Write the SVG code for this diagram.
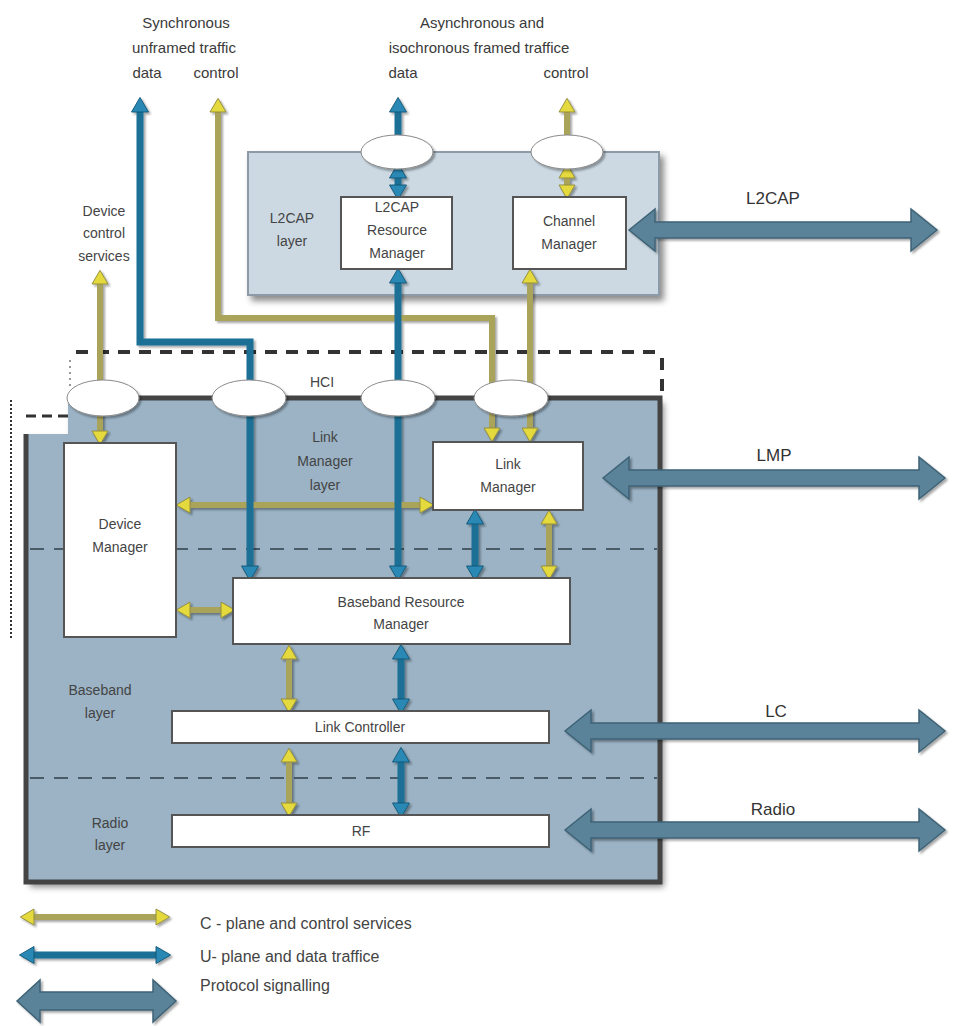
<svg xmlns="http://www.w3.org/2000/svg" width="959" height="1026" viewBox="0 0 959 1026">
  <defs>
    <style>
      text { font-family: "Liberation Sans", Arial, sans-serif; fill: #444; dominant-baseline: central; text-anchor: middle; }
      .lbl { font-size: 14px; }
      .top { font-size: 15px; fill: #3a3a3a; }
      .proto { font-size: 17px; fill: #333; }
      .leg { font-size: 16px; fill: #444; text-anchor: start; }
      .node { fill: #fff; stroke: #555; stroke-width: 2; }
      .ell { fill: #fff; stroke: #8a8a8a; stroke-width: 1; }
      .ctl { fill: none; stroke: #aaa35a; stroke-width: 6; }
      .dat { fill: none; stroke: #1c6f96; stroke-width: 7; }
      .sig { fill: #5a8399; stroke: #3e6275; stroke-width: 1.5; }
      .layerline { fill: none; stroke: #4a5b68; stroke-width: 2; stroke-dasharray: 14 10; }
      .hci { fill: none; stroke: #333; stroke-width: 4; stroke-dasharray: 12 9; }
    </style>
    <marker id="yh" markerUnits="userSpaceOnUse" markerWidth="14" markerHeight="16" viewBox="0 0 12 14" refX="0" refY="7" orient="auto-start-reverse" overflow="visible">
      <path d="M0,0 L12,7 L0,14 z" fill="#e4d93c" stroke="#8f8a3c" stroke-width="0.8"/>
    </marker>
    <marker id="bh" markerUnits="userSpaceOnUse" markerWidth="15" markerHeight="17" viewBox="0 0 12 14" refX="0" refY="7" orient="auto-start-reverse" overflow="visible">
      <path d="M0,0 L12,7 L0,14 z" fill="#2a88b5" stroke="#155a7a" stroke-width="0.8"/>
    </marker>
    <filter id="sh" x="-10%" y="-10%" width="130%" height="130%">
      <feDropShadow dx="2" dy="2" stdDeviation="1.2" flood-color="#000" flood-opacity="0.35"/>
    </filter>
    <filter id="boxsh" x="-5%" y="-5%" width="115%" height="115%">
      <feDropShadow dx="4" dy="5" stdDeviation="3" flood-color="#000" flood-opacity="0.45"/>
    </filter>
  </defs>

  <rect width="959" height="1026" fill="#fff"/>

  <!-- top labels -->
  <g id="labels-top">
    <text class="top" x="186" y="22">Synchronous</text>
    <text class="top" x="184" y="47">unframed traffic</text>
    <text class="top" x="147" y="72">data</text>
    <text class="top" x="216" y="72">control</text>
    <text class="top" x="482" y="22">Asynchronous and</text>
    <text class="top" x="479" y="47">isochronous framed traffice</text>
    <text class="top" x="403" y="72">data</text>
    <text class="top" x="566" y="72">control</text>
    <text class="lbl" x="104" y="211">Device</text>
    <text class="lbl" x="104" y="233">control</text>
    <text class="lbl" x="104" y="256">services</text>
  </g>

  <!-- controller (lower) frame -->
  <g id="controller">
    <path d="M68,398 H660 V882 H26 V434 H68 Z" fill="#9bb3c5" filter="url(#boxsh)"/>
    <path d="M68,398 H660 V882 H26 V434" fill="none" stroke="#444" stroke-width="5"/>
    <line class="layerline" x1="30" y1="549" x2="657" y2="549"/>
    <line class="layerline" x1="30" y1="778" x2="657" y2="778"/>
  </g>

  <!-- HCI boundary and fragments of outer frames -->
  <g id="hci-frame">
    <line class="hci" x1="76" y1="352" x2="662" y2="352"/>
    <line class="hci" x1="662" y1="358" x2="662" y2="392"/>
    <line x1="70" y1="360" x2="70" y2="386" stroke="#999" stroke-width="2" stroke-dasharray="2 4"/>
    <line x1="26" y1="416" x2="70" y2="416" stroke="#333" stroke-width="3" stroke-dasharray="10 6"/>
    <line x1="11" y1="400" x2="11" y2="638" stroke="#333" stroke-width="2" stroke-dasharray="2 2"/>
  </g>

  <!-- L2CAP layer box -->
  <g id="l2cap-layer">
    <rect x="248" y="152" width="411" height="143" fill="#ccd9e3" stroke="#8c9ba7" stroke-width="2" filter="url(#boxsh)"/>
    <text class="lbl" x="292" y="218">L2CAP</text>
    <text class="lbl" x="292" y="241">layer</text>
  </g>

  <!-- connectors -->
  <g id="connectors" filter="url(#sh)">
    <!-- control plane (yellow) -->
    <path class="ctl" d="M100,284 V398" marker-start="url(#yh)"/>
    <path class="ctl" d="M100,408 V431" marker-end="url(#yh)"/>
    <path class="ctl" d="M218,112 V318 H492 V428" marker-start="url(#yh)" marker-end="url(#yh)"/>
    <path class="ctl" d="M567,112 V150" marker-start="url(#yh)"/>
    <path class="ctl" d="M567,178 V185" marker-start="url(#yh)" marker-end="url(#yh)"/>
    <path class="ctl" d="M530,283 V428" marker-start="url(#yh)" marker-end="url(#yh)"/>
    <path class="ctl" d="M190,505 H420" marker-start="url(#yh)" marker-end="url(#yh)"/>
    <path class="ctl" d="M190,610 H221" marker-start="url(#yh)" marker-end="url(#yh)"/>
    <path class="ctl" d="M549,524 V566" marker-start="url(#yh)" marker-end="url(#yh)"/>
    <path class="ctl" d="M289,659 V699" marker-start="url(#yh)" marker-end="url(#yh)"/>
    <path class="ctl" d="M289,762 V803" marker-start="url(#yh)" marker-end="url(#yh)"/>

    <!-- user plane (blue) -->
    <path class="dat" d="M140,112 V342 H250 V566" marker-start="url(#bh)" marker-end="url(#bh)"/>
    <path class="dat" d="M398,112 V150" marker-start="url(#bh)"/>
    <path class="dat" d="M398,178 V185" marker-start="url(#bh)" marker-end="url(#bh)"/>
    <path class="dat" d="M398,283 V566" marker-start="url(#bh)" marker-end="url(#bh)"/>
    <path class="dat" d="M475,524 V566" marker-start="url(#bh)" marker-end="url(#bh)"/>
    <path class="dat" d="M401,659 V699" marker-start="url(#bh)" marker-end="url(#bh)"/>
    <path class="dat" d="M401,762 V803" marker-start="url(#bh)" marker-end="url(#bh)"/>
  </g>

  <!-- service access points -->
  <g id="sap" filter="url(#sh)">
    <ellipse class="ell" cx="397" cy="152" rx="36" ry="17"/>
    <ellipse class="ell" cx="567" cy="152" rx="36" ry="17"/>
    <ellipse class="ell" cx="103" cy="398" rx="36" ry="18"/>
    <ellipse class="ell" cx="249" cy="398" rx="37" ry="18"/>
    <ellipse class="ell" cx="398" cy="398" rx="37" ry="18"/>
    <ellipse class="ell" cx="511" cy="398" rx="37" ry="18"/>
  </g>
  <text class="lbl" x="322" y="382">HCI</text>

  <g id="l2cap-rm">
    <rect class="node" x="341" y="197" width="111" height="72"/>
    <text class="lbl" x="397" y="207">L2CAP</text>
    <text class="lbl" x="397" y="230">Resource</text>
    <text class="lbl" x="397" y="253">Manager</text>
  </g>
  <g id="channel-manager">
    <rect class="node" x="513" y="197" width="113" height="72"/>
    <text class="lbl" x="569" y="221">Channel</text>
    <text class="lbl" x="569" y="244">Manager</text>
  </g>

  <g id="lm-layer">
    <text class="lbl" x="325" y="437">Link</text>
    <text class="lbl" x="325" y="461">Manager</text>
    <text class="lbl" x="325" y="485">layer</text>
  </g>
  <g id="link-manager">
    <rect class="node" x="433" y="442" width="150" height="68"/>
    <text class="lbl" x="508" y="464">Link</text>
    <text class="lbl" x="508" y="487">Manager</text>
  </g>
  <g id="device-manager">
    <rect class="node" x="64" y="443" width="112" height="194"/>
    <text class="lbl" x="120" y="524">Device</text>
    <text class="lbl" x="120" y="547">Manager</text>
  </g>
  <g id="baseband-rm">
    <rect class="node" x="233" y="578" width="337" height="66"/>
    <text class="lbl" x="401" y="602">Baseband Resource</text>
    <text class="lbl" x="401" y="624">Manager</text>
  </g>
  <g id="bb-layer">
    <text class="lbl" x="100" y="690">Baseband</text>
    <text class="lbl" x="100" y="713">layer</text>
  </g>
  <g id="link-controller">
    <rect class="node" x="172" y="711" width="377" height="32"/>
    <text class="lbl" x="360" y="727">Link Controller</text>
  </g>
  <g id="radio-layer">
    <text class="lbl" x="110" y="823">Radio</text>
    <text class="lbl" x="110" y="845">layer</text>
  </g>
  <g id="rf">
    <rect class="node" x="172" y="815" width="377" height="32"/>
    <text class="lbl" x="361" y="831">RF</text>
  </g>

  <!-- peer protocol signalling -->
  <g id="protocols" filter="url(#sh)">
    <polygon class="sig" points="629,230 655,209 655,222 911,222 911,209 937,230 911,251 911,238 655,238 655,251"/>
    <polygon class="sig" points="603,478 629,457 629,470 919,470 919,457 945,478 919,499 919,486 629,486 629,499"/>
    <polygon class="sig" points="565,731 591,710 591,723 919,723 919,710 945,731 919,752 919,739 591,739 591,752"/>
    <polygon class="sig" points="565,830 591,809 591,822 919,822 919,809 945,830 919,851 919,838 591,838 591,851"/>
  </g>
  <text class="proto" x="773" y="198">L2CAP</text>
  <text class="proto" x="774" y="455">LMP</text>
  <text class="proto" x="776" y="711">LC</text>
  <text class="proto" x="773" y="809">Radio</text>

  <!-- legend -->
  <g id="legend">
    <g filter="url(#sh)">
      <path class="ctl" d="M34,917 H156" marker-start="url(#yh)" marker-end="url(#yh)"/>
      <path class="dat" d="M34,955 H156" marker-start="url(#bh)" marker-end="url(#bh)"/>
      <polygon class="sig" points="17,1001 40,980 40,992 153,992 153,980 176,1001 153,1022 153,1010 40,1010 40,1022"/>
    </g>
    <text class="leg" x="200" y="923">C - plane and control services</text>
    <text class="leg" x="200" y="956">U- plane and data traffice</text>
    <text class="leg" x="200" y="985">Protocol signalling</text>
  </g>
</svg>
